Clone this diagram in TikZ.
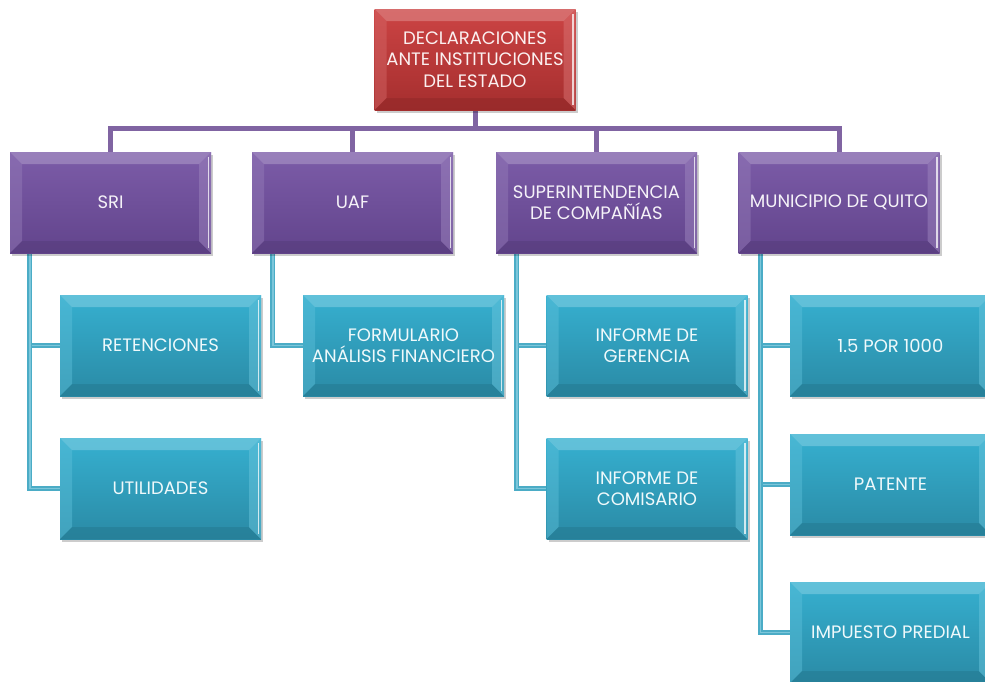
\documentclass[tikz,border=0pt]{standalone}
\usepackage{fontspec}
\setmainfont{Poppins}
\usetikzlibrary{shadows,backgrounds}
\definecolor{redT}{HTML}{CC4444}
\definecolor{redB}{HTML}{A52E2E}
\definecolor{purT}{HTML}{7C5CA8}
\definecolor{purB}{HTML}{62448C}
\definecolor{cyaT}{HTML}{36B0D0}
\definecolor{cyaB}{HTML}{2A8AA5}
\definecolor{purLine}{HTML}{8064A2}
\definecolor{cyaLine}{HTML}{4BACC6}
\definecolor{cyaLineL}{HTML}{7CC6DA}
\tikzset{
  bevbox/.style 2 args={rectangle, minimum width=201pt, minimum height=101pt,
    inner sep=1pt, align=center, text=white!92!#1,
    font=\fontsize{18}{21.5}\selectfont,
    top color=#1, bottom color=#2,
    drop shadow={shadow xshift=2pt,shadow yshift=-2.5pt,opacity=0.2,fill=black},
    path picture={
      \fill[#1!60!white,opacity=0.55]
        (path picture bounding box.north west) -- (path picture bounding box.north east)
        -- ([xshift=-12pt,yshift=-12pt]path picture bounding box.north east)
        -- ([xshift=12pt,yshift=-12pt]path picture bounding box.north west) -- cycle;
      \fill[#1!80!white,opacity=0.45]
        (path picture bounding box.north west) -- ([xshift=12pt,yshift=-12pt]path picture bounding box.north west)
        -- ([xshift=12pt,yshift=12pt]path picture bounding box.south west)
        -- (path picture bounding box.south west) -- cycle;
      \fill[#2!85!black,opacity=0.45]
        (path picture bounding box.south west) -- (path picture bounding box.south east)
        -- ([xshift=-12pt,yshift=12pt]path picture bounding box.south east)
        -- ([xshift=12pt,yshift=12pt]path picture bounding box.south west) -- cycle;
      \fill[#1!75!white,opacity=0.5]
        (path picture bounding box.north east) -- ([xshift=-12pt,yshift=-12pt]path picture bounding box.north east)
        -- ([xshift=-12pt,yshift=12pt]path picture bounding box.south east)
        -- (path picture bounding box.south east) -- cycle;
      \fill[white,opacity=0.75]
        ([xshift=-3.5pt,yshift=-5pt]path picture bounding box.north east) rectangle
        ([xshift=-2pt,yshift=5pt]path picture bounding box.south east);
    }},
  redbox/.style={bevbox={redT}{redB}},
  purbox/.style={bevbox={purT}{purB}},
  cyabox/.style={bevbox={cyaT}{cyaB}},
  purconn/.style={draw=purLine, line width=5pt},
  cyaconn/.style={draw=cyaLine, line width=1.8pt, double=cyaLineL, double distance=1.5pt},
}
\begin{document}
\begin{tikzpicture}[x=1pt,y=-1pt]
\useasboundingbox (0,0) rectangle (985,681);
\clip (0,0) rectangle (985,681);
\node[redbox] (top) at (475,59.5) {DECLARACIONES\\ANTE INSTITUCIONES\\DEL ESTADO};
\node[purbox] (sri) at (110.5,202.5) {SRI};
\node[purbox] (uaf) at (352.5,202.5) {UAF};
\node[purbox] (sup) at (596.5,202.5) {SUPERINTENDENCIA\\DE COMPAÑÍAS};
\node[purbox] (mun) at (839,202.5) {MUNICIPIO DE QUITO};
\node[cyabox] (ret) at (160.5,345.5) {RETENCIONES};
\node[cyabox] (uti) at (160.5,488.5) {UTILIDADES};
\node[cyabox] (for) at (403.5,345.5) {FORMULARIO\\ANÁLISIS FINANCIERO};
\node[cyabox] (ige) at (647,345.5) {INFORME DE\\GERENCIA};
\node[cyabox] (ico) at (647,488.5) {INFORME DE\\COMISARIO};
\node[cyabox] (p15) at (890.5,345.5) {1.5 POR 1000};
\node[cyabox] (pat) at (890.5,484.5) {PATENTE};
\node[cyabox] (imp) at (890.5,632.5) {IMPUESTO PREDIAL};
\coordinate (bus) at (475,128);
\coordinate (sriL) at ([xshift=20pt]sri.south west);
\coordinate (uafL) at ([xshift=21pt]uaf.south west);
\coordinate (supL) at ([xshift=21pt]sup.south west);
\coordinate (munL) at ([xshift=22pt]mun.south west);
\begin{scope}[on background layer]
\draw[purconn] (top.south) -- (bus) -| (sri.north);
\draw[purconn] (bus) -| (uaf.north);
\draw[purconn] (bus) -| (sup.north);
\draw[purconn] (bus) -| (mun.north);
\draw[cyaconn] (sriL) |- (ret.west);
\draw[cyaconn] (sriL) |- (uti.west);
\draw[cyaconn] (uafL) |- (for.west);
\draw[cyaconn] (supL) |- (ige.west);
\draw[cyaconn] (supL) |- (ico.west);
\draw[cyaconn] (munL) |- (p15.west);
\draw[cyaconn] (munL) |- (pat.west);
\draw[cyaconn] (munL) |- (imp.west);
\end{scope}
\end{tikzpicture}
\end{document}
